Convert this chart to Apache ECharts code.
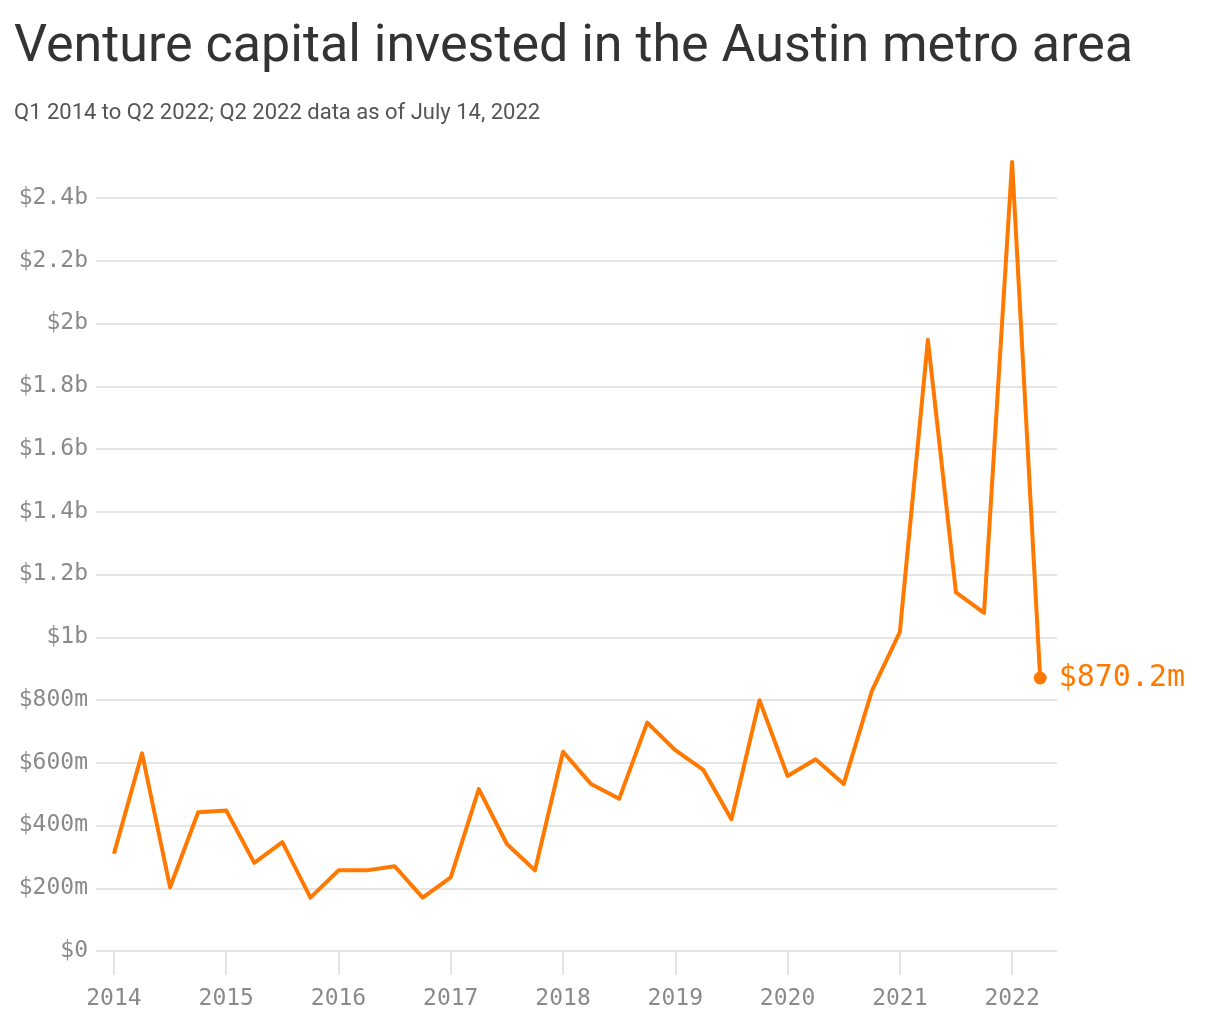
<!DOCTYPE html>
<html>
<head>
<meta charset="utf-8">
<script src="https://cdn.jsdelivr.net/npm/echarts@6/dist/echarts.min.js"></script>
<style>
  html, body { margin: 0; padding: 0; background: #fff; }
  #chart { width: 1220px; height: 1020px; }
</style>
</head>
<body>
<div id="chart"></div>
<script>
// quarters shown on the x axis, Q1 2014 .. Q2 2022
const quarters = [
  'Q1 2014', 'Q2 2014', 'Q3 2014', 'Q4 2014',
  'Q1 2015', 'Q2 2015', 'Q3 2015', 'Q4 2015',
  'Q1 2016', 'Q2 2016', 'Q3 2016', 'Q4 2016',
  'Q1 2017', 'Q2 2017', 'Q3 2017', 'Q4 2017',
  'Q1 2018', 'Q2 2018', 'Q3 2018', 'Q4 2018',
  'Q1 2019', 'Q2 2019', 'Q3 2019', 'Q4 2019',
  'Q1 2020', 'Q2 2020', 'Q3 2020', 'Q4 2020',
  'Q1 2021', 'Q2 2021', 'Q3 2021', 'Q4 2021',
  'Q1 2022', 'Q2 2022'
];
// venture capital invested, millions of dollars
const invested = [
  310, 630, 203, 442,
  448, 281, 347, 170,
  257, 257, 270, 170,
  235, 516, 341, 257,
  635, 532, 485, 728,
  640, 577, 420, 799,
  558, 611, 532, 828,
  1016, 1948, 1143, 1078,
  2515, 870.2
];
const yearTicks = [2014, 2015, 2016, 2017, 2018, 2019, 2020, 2021, 2022];

const ORANGE = '#ff7900';
const MONO = '"DejaVu Sans Mono", monospace';

// "Q3 2016" -> 2016.5
const toX = q => Number(q.slice(3)) + (Number(q[1]) - 1) / 4;
const points = quarters.map((q, i) => [toX(q), invested[i]]);
const last = points.length - 1;

const fmtMoney = v => {
  if (v === 0) return '$0';
  if (v >= 1000) return '$' + String(+(v / 1000).toFixed(1)) + 'b';
  return '$' + v + 'm';
};

const chart = echarts.init(document.getElementById('chart'), null, { renderer: 'canvas' });
chart.setOption({
  animation: false,
  backgroundColor: '#fff',
  title: {
    left: 9,
    top: 17,
    text: 'Venture capital invested in the Austin metro area',
    subtext: 'Q1 2014 to Q2 2022; Q2 2022 data as of July 14, 2022',
    itemGap: 28,
    textStyle: { fontFamily: 'Roboto', fontWeight: 'normal', fontSize: 52, color: '#333' },
    subtextStyle: { fontFamily: 'Roboto', fontSize: 22, color: '#555' }
  },
  grid: { left: 96, right: 163, top: 198, bottom: 69, containLabel: false },
  xAxis: {
    type: 'value',
    min: 2013.84,
    max: 2022.4,
    axisLine: { show: false },
    splitLine: { show: false },
    axisTick: {
      show: true, length: 24, customValues: yearTicks,
      lineStyle: { color: '#e3e3e3', width: 2 }
    },
    axisLabel: {
      customValues: yearTicks,
      margin: 37,
      fontFamily: MONO, fontSize: 23, color: '#8a8a8a',
      formatter: v => String(v)
    }
  },
  yAxis: {
    type: 'value',
    min: 0,
    max: 2400,
    interval: 200,
    axisLine: { show: false },
    axisTick: { show: false },
    splitLine: { lineStyle: { color: '#e5e5e5', width: 2 } },
    axisLabel: {
      margin: 8,
      padding: [4, 0, 0, 0],
      fontFamily: MONO, fontSize: 23, color: '#8a8a8a',
      formatter: fmtMoney
    }
  },
  series: [{
    type: 'line',
    clip: false,
    data: points.map((p, i) => i === last ? {
      value: p,
      symbol: 'circle',
      symbolSize: 13,
      label: {
        show: true, position: 'right', distance: 12,
        padding: [6, 0, 0, 0],
        fontFamily: MONO, fontSize: 30, color: ORANGE,
        formatter: () => '$' + invested[last] + 'm'
      }
    } : p),
    showSymbol: true,
    symbol: 'none',
    lineStyle: { color: ORANGE, width: 4, join: 'round' },
    itemStyle: { color: ORANGE }
  }]
});
</script>
</body>
</html>
